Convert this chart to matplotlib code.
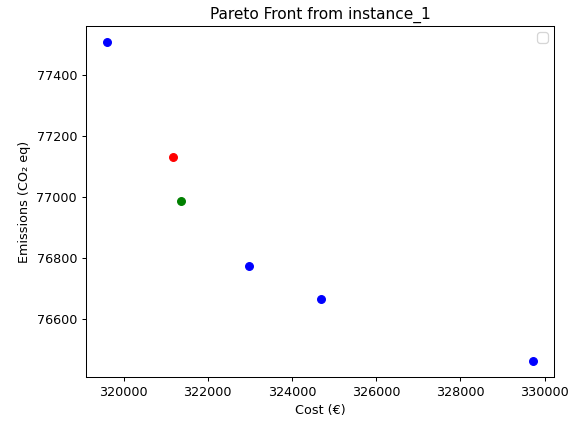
import matplotlib
matplotlib.use("Agg")
import matplotlib.pyplot as plt

# pareto points
front_cost = [319613, 322980, 324688, 329716]
front_emis = [77509, 76772, 76666, 76461]
cost_sol = [321179]
emis_sol = [77132]
bal_cost = [321369]
bal_emis = [76987]

dpi = 92
fig = plt.figure(figsize=(568 / dpi, 421 / dpi), dpi=dpi)
ax = fig.add_axes([86 / 568, 1 - 377 / 421, (554 - 86) / 568, (377 - 26) / 421])

ax.scatter(front_cost, front_emis, color="blue")
ax.scatter(cost_sol, emis_sol, color="red")
ax.scatter(bal_cost, bal_emis, color="green")

ax.set_xlabel("Cost (€)")
ax.set_ylabel("Emissions (CO₂ eq)")
ax.set_title("Pareto Front from instance_1")
ax.legend(handles=[], loc="upper right")

fig.savefig("out.png", dpi=dpi)
